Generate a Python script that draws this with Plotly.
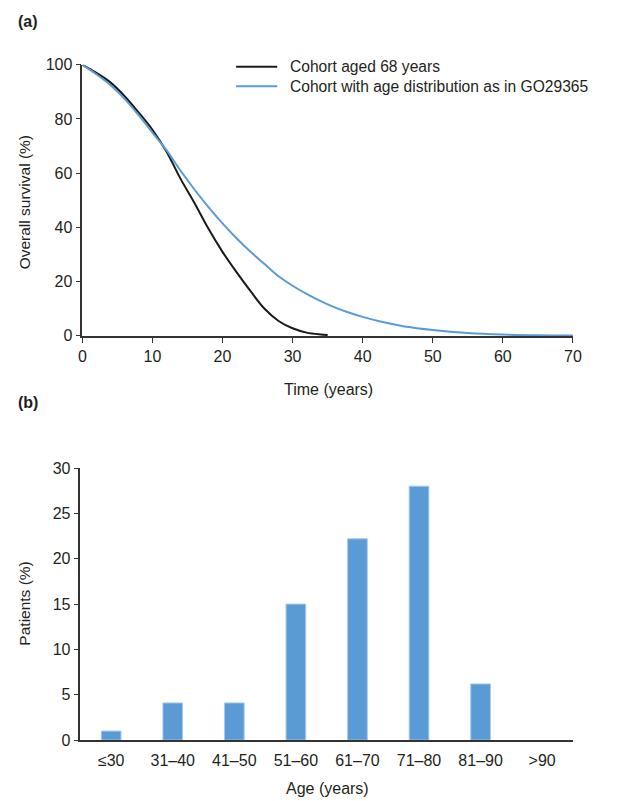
import plotly.graph_objects as go

# ---- data ----
time_68 = [0, 2, 4, 6, 8, 10, 12, 14, 16, 18, 20, 22, 24, 26, 28, 30, 32, 34, 35]
surv_68 = [100, 97, 93.5, 88.5, 82.5, 76, 68, 58, 49, 39.5, 31, 23.5, 16.5, 10, 5.5, 2.8, 1.2, 0.5, 0.3]

time_dist = [0, 2, 4, 6, 8, 10, 12, 14, 16, 18, 20, 22, 24, 26, 28, 30, 32, 34, 36, 38, 40,
             43, 46, 50, 55, 60, 65, 70]
surv_dist = [100, 96.5, 92.5, 87.5, 81.5, 75, 68.5, 61, 54, 47.5, 41.5, 36, 31, 26.5, 22, 18.5,
             15.5, 12.8, 10.5, 8.6, 7.0, 5.0, 3.5, 2.2, 1.1, 0.5, 0.2, 0.1]

age_groups = ["≤30", "31–40", "41–50", "51–60", "61–70", "71–80", "81–90", ">90"]
patients_pct = [1.0, 4.1, 4.1, 15.0, 22.2, 28.0, 6.2, 0]

legend_names = ["Cohort aged 68 years", "Cohort with age distribution as in GO29365"]

# ---- styling ----
W, H = 627, 801
FONT = "Liberation Sans, Arial, sans-serif"
FS = 16
TXT = "#231f20"
AX = "#333333"
BLACK = "#1a1a1a"
BLUE = "#5b9bd5"


def px(x):
    return x / W


def py(y):
    return 1 - y / H


fig = go.Figure()
fig.add_trace(go.Scatter(x=time_68, y=surv_68, mode="lines", line=dict(color=BLACK, width=2, shape="spline"),
                         showlegend=False, xaxis="x", yaxis="y"))
fig.add_trace(go.Scatter(x=time_dist, y=surv_dist, mode="lines", line=dict(color=BLUE, width=2, shape="spline"),
                         showlegend=False, xaxis="x", yaxis="y"))
fig.add_trace(go.Bar(x=age_groups, y=patients_pct, width=0.32,
                     marker=dict(color=BLUE, line=dict(color="#a9c9ec",
                                                       width=[1 if v > 0 else 0 for v in patients_pct])),
                     showlegend=False, xaxis="x2", yaxis="y2"))

axis_common = dict(showgrid=False, zeroline=False, showline=True, linecolor=AX, linewidth=1.5,
                   ticks="outside", ticklen=5, tickcolor=AX, tickwidth=1.2,
                   tickfont=dict(family=FONT, size=FS, color=TXT))

fig.update_layout(
    width=W, height=H, autosize=False,
    margin=dict(l=0, r=0, t=0, b=0),
    paper_bgcolor="white", plot_bgcolor="white",
    font=dict(family=FONT, size=FS, color=TXT),
    xaxis=dict(domain=[px(80), px(581)], range=[0, 70], dtick=10, anchor="y", **axis_common),
    yaxis=dict(domain=[py(335), py(58)], range=[0, 100], dtick=20, anchor="x", **axis_common),
    xaxis2=dict(domain=[px(78), px(581)], range=[-0.5, 7.5], type="category", anchor="y2",
                showgrid=False, zeroline=False, showline=True, linecolor=AX, linewidth=1.5,
                ticks="outside", ticklen=5, tickcolor="rgba(0,0,0,0)",
                tickfont=dict(family=FONT, size=FS, color=TXT)),
    yaxis2=dict(domain=[py(748), py(470)], range=[0, 30], dtick=5, anchor="x2", **axis_common),
)

ann = [
    dict(text="<b>(a)</b>", x=px(12), y=py(14), xanchor="left", yanchor="middle", size=FS),
    dict(text="<b>(b)</b>", x=px(12), y=py(403), xanchor="left", yanchor="middle", size=FS),
    dict(text="Overall survival (%)", x=px(21), y=py(199), textangle=-90, xanchor="center",
         yanchor="middle", size=15.5),
    dict(text="Patients (%)", x=px(21), y=py(609), textangle=-90, xanchor="center", yanchor="middle", size=15.5),
    dict(text="Time (years)", x=px(331), y=py(390), xanchor="center", yanchor="middle", size=FS),
    dict(text="Age (years)", x=px(330), y=py(797), xanchor="center", yanchor="middle", size=FS),
    dict(text=legend_names[0], x=px(290), y=py(60), xanchor="left", yanchor="middle", size=15.6),
    dict(text=legend_names[1], x=px(290), y=py(80), xanchor="left", yanchor="middle", size=15.6),
]
for a in ann:
    s = a.pop("size")
    a.update(xref="paper", yref="paper", showarrow=False, font=dict(family=FONT, size=s, color=TXT))
fig.update_layout(annotations=ann)

fig.update_layout(shapes=[
    dict(type="line", xref="paper", yref="paper", x0=px(237), x1=px(279), y0=py(60), y1=py(60),
         line=dict(color=BLACK, width=2)),
    dict(type="line", xref="paper", yref="paper", x0=px(237), x1=px(279), y0=py(80), y1=py(80),
         line=dict(color=BLUE, width=2)),
])

fig.write_html("out.html")
